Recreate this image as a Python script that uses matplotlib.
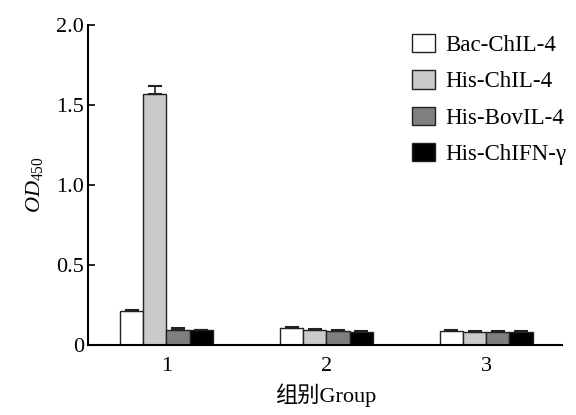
import numpy as np
import matplotlib
matplotlib.use('Agg')
import matplotlib.pyplot as plt

plt.rcParams['font.family'] = ['Liberation Serif', 'Noto Sans CJK SC']
plt.rcParams['mathtext.fontset'] = 'custom'
plt.rcParams['mathtext.rm'] = 'Liberation Serif'
plt.rcParams['mathtext.it'] = 'Liberation Serif:italic'

# 数据
groups = [1, 2, 3]
series = ['Bac-ChIL-4', 'His-ChIL-4', 'His-BovIL-4', 'His-ChIFN-γ']
colors = ['white', '#cacaca', '#7f7f7f', 'black']
values = [
    [0.21, 0.105, 0.085],
    [1.57, 0.092, 0.080],
    [0.095, 0.088, 0.080],
    [0.090, 0.082, 0.080],
]
errors = [
    [0.008, 0.006, 0.005],
    [0.05, 0.006, 0.005],
    [0.008, 0.005, 0.005],
    [0.005, 0.005, 0.005],
]

fig = plt.figure(figsize=(5.76, 4.15), dpi=100)
ax = fig.add_axes([0.153, 0.169, 0.823, 0.771])

w = 0.145
x = np.array(groups, dtype=float)
for i in range(4):
    ax.bar(x + (i - 1.5) * w, values[i], w, color=colors[i], edgecolor='#222222',
           linewidth=1.0, label=series[i])
    ax.errorbar(x + (i - 1.5) * w, values[i], yerr=[np.zeros(3), errors[i]],
                fmt='none', ecolor='#222222', elinewidth=1.2, capsize=5, capthick=1.5)

ax.set_xlim(0.51, 3.475)
ax.set_ylim(0, 2.0)
ax.set_xticks(groups)
ax.set_yticks([0, 0.5, 1.0, 1.5, 2.0])
ax.set_yticklabels(['0', '0.5', '1.0', '1.5', '2.0'])
ax.tick_params(axis='x', length=0, labelsize=16, pad=9)
ax.tick_params(axis='y', direction='in', length=5, width=1.2, labelsize=16, pad=3)
ax.spines['top'].set_visible(False)
ax.spines['right'].set_visible(False)
ax.spines['left'].set_linewidth(1.5)
ax.spines['bottom'].set_linewidth(1.5)

ax.set_xlabel('组别Group', fontsize=16, labelpad=5)
ax.set_ylabel(r'$OD_{\mathrm{450}}$', fontsize=16, labelpad=8)

ax.legend(loc='upper left', bbox_to_anchor=(412 / 576, 1 - 34 / 415),
          bbox_transform=fig.transFigure, frameon=False, fontsize=16.5, borderpad=0,
          borderaxespad=0, handlelength=1.0, handleheight=0.85, handletextpad=0.45,
          labelspacing=0.62)

fig.savefig('out.png', dpi=100)
